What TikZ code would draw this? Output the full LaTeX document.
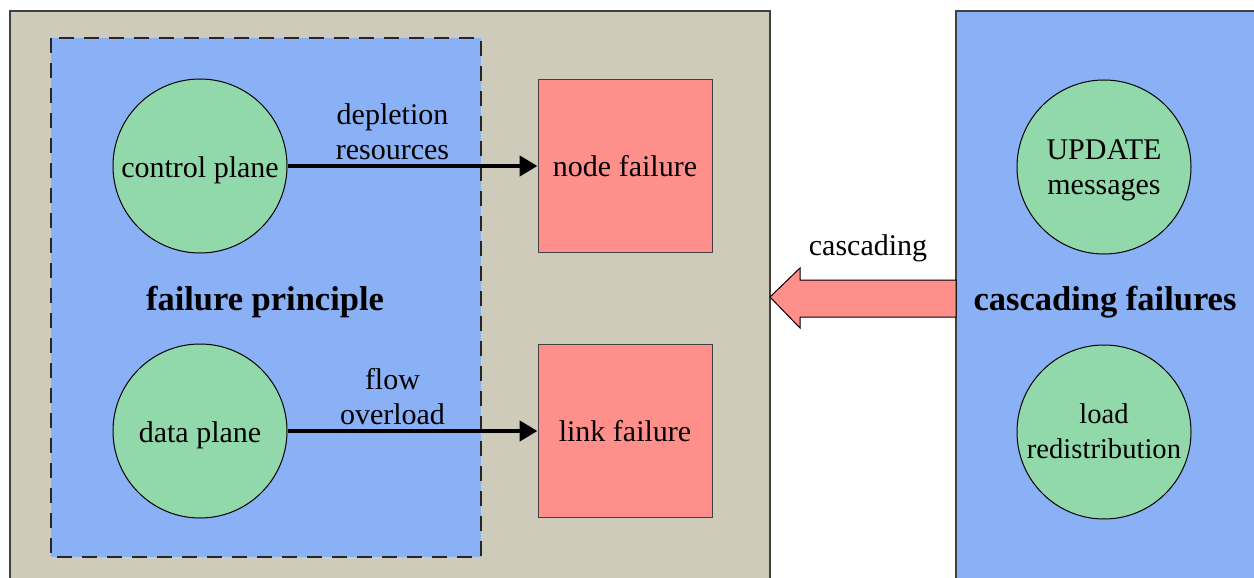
\documentclass[tikz,border=0pt]{standalone}
\usepackage{fontspec}
\setmainfont{Liberation Serif}
\usetikzlibrary{arrows.meta}
\definecolor{graybg}{RGB}{206,203,186}
\definecolor{bluebg}{RGB}{138,176,245}
\definecolor{greenc}{RGB}{145,216,170}
\definecolor{redc}{RGB}{255,143,138}
\definecolor{edge}{RGB}{64,64,64}
\newcommand{\dnt}[2]{\raisebox{#1}[\height][\depth]{\begin{tabular}{@{}c@{}}#2\end{tabular}}}
\tikzset{
  txt/.style={font=\fontsize{30}{35}\selectfont},
  circ/.style={circle, draw=black, line width=1pt, fill=greenc, minimum size=174pt, inner sep=0pt, align=center, txt},
  redbox/.style={rectangle, draw=edge, line width=1pt, fill=redc, minimum width=174pt, minimum height=173pt, inner sep=0pt, txt},
  conn/.style={line width=4.5pt, -{Triangle[length=18pt,width=20pt]}},
  lbl/.style={align=center, txt, inner sep=0pt},
  big/.style={font=\bfseries\fontsize{34.5}{40}\selectfont, inner sep=0pt}
}
\begin{document}
\begin{tikzpicture}[x=1pt,y=-1pt]
\useasboundingbox (0,0) rectangle (1254,578);
\clip (0,0) rectangle (1254,578);
\draw[fill=graybg, draw=edge, line width=1.5pt] (10,11) rectangle (770,600);
\draw[fill=bluebg, draw=edge, line width=1.5pt] (956,11) rectangle (1270,600);
\draw[fill=bluebg, draw=black!85, line width=2pt, dash pattern=on 15pt off 10pt] (51,38) rectangle (481,557);
\node[circ] (cp) at (200,166) {\dnt{-4pt}{control plane}};
\node[circ] (dp) at (200,431) {\dnt{-4pt}{data plane}};
\node[redbox] (nf) at (625,166) {\dnt{-3pt}{node failure}};
\node[redbox] (lf) at (625,431) {\dnt{-3pt}{link failure}};
\draw[conn] (cp.east) -- (nf.west) node[lbl, pos=0.42, above=4pt] {depletion\\resources};
\draw[conn] (dp.east) -- (lf.west) node[lbl, pos=0.42, above=4pt] {flow\\overload};
\node[big] (fp) at (265,302) {failure principle};
\node[circ] (um) at (1104,167) {\dnt{-3pt}{UPDATE\\messages}};
\node[circ, font=\fontsize{28.6}{34.5}\selectfont] (lr) at (1104,432) {\dnt{-2pt}{load\\redistribution}};
\node[big] (cf) at (1105,302) {cascading failures};
\draw[fill=redc, draw=black, line width=1pt] (770,297) -- (800,268) -- (800,280) -- (956,280) -- (956,317) -- (800,317) -- (800,328) -- cycle;
\node[lbl] (casc) at (868,248) {cascading};
\end{tikzpicture}
\end{document}
